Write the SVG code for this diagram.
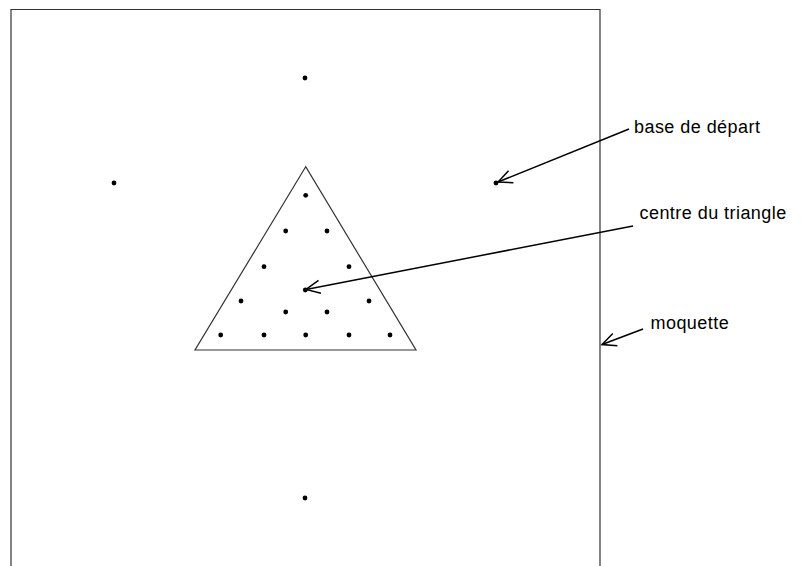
<svg xmlns="http://www.w3.org/2000/svg" width="801" height="566" viewBox="0 0 801 566">
<style>
.shape{fill:none;stroke:#333;stroke-width:1.2}
.dot{fill:#000}
.arr{fill:none;stroke:#000;stroke-width:1.5}
text{font-family:"Liberation Sans",Arial,sans-serif;font-size:18px;letter-spacing:0.45px;fill:#000}
</style>
<defs>
<marker id="v" markerUnits="userSpaceOnUse" markerWidth="30" markerHeight="30" viewBox="-15 -15 30 30" refX="0" refY="0" orient="auto" overflow="visible">
<path d="M-14,-6.5 L0,0 L-14,6.5" fill="none" stroke="#000" stroke-width="1.5"/>
</marker>
</defs>
<rect width="801" height="566" fill="#fff"/>
<g id="moquette"><path class="shape" d="M11,575 L11,9.5 L600,9.5 L600,575"/></g>
<g id="triangle"><path class="shape" d="M305.7,166.7 L195,350 L416,350 Z"/></g>
<g id="bases">
<circle class="dot" cx="305" cy="78" r="2.4"/>
<circle class="dot" cx="114" cy="183" r="2.4"/>
<circle class="dot" cx="496" cy="183" r="2.4"/>
<circle class="dot" cx="305" cy="498" r="2.4"/>
</g>
<g id="quilles">
<circle class="dot" cx="305.7" cy="195.3" r="2.4"/>
<circle class="dot" cx="285.7" cy="231" r="2.4"/>
<circle class="dot" cx="327" cy="231" r="2.4"/>
<circle class="dot" cx="264" cy="266.7" r="2.4"/>
<circle class="dot" cx="349" cy="266.7" r="2.4"/>
<circle class="dot" cx="305.3" cy="290" r="2.4"/>
<circle class="dot" cx="241" cy="301" r="2.4"/>
<circle class="dot" cx="369" cy="301" r="2.4"/>
<circle class="dot" cx="285.7" cy="312" r="2.4"/>
<circle class="dot" cx="327" cy="312" r="2.4"/>
<circle class="dot" cx="220.7" cy="335" r="2.4"/>
<circle class="dot" cx="264" cy="335" r="2.4"/>
<circle class="dot" cx="305.7" cy="335" r="2.4"/>
<circle class="dot" cx="349" cy="335" r="2.4"/>
<circle class="dot" cx="390" cy="335" r="2.4"/>
</g>
<g id="connectors">
<line class="arr" x1="629" y1="129" x2="498" y2="182" marker-end="url(#v)"/>
<line class="arr" x1="633" y1="226" x2="306" y2="289.5" marker-end="url(#v)"/>
<line class="arr" x1="643" y1="329" x2="602" y2="344.5" marker-end="url(#v)"/>
</g>
<g id="labels">
<text x="634" y="133">base de départ</text>
<text x="639.5" y="219">centre du triangle</text>
<text x="650.5" y="328.5">moquette</text>
</g>
</svg>
